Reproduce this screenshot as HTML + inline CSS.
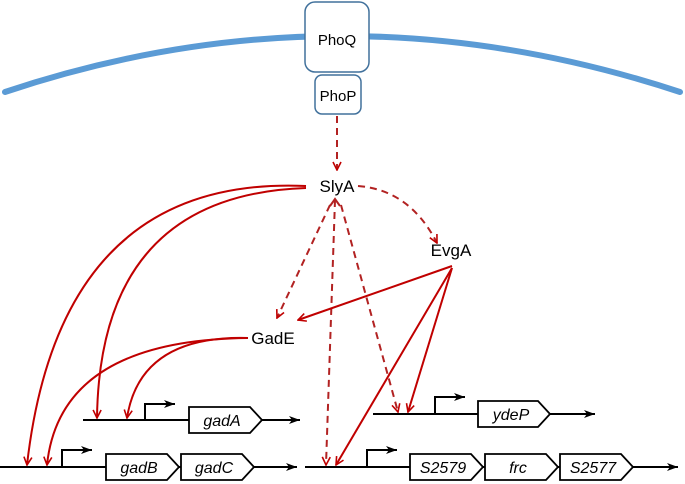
<!DOCTYPE html>
<html><head><meta charset="utf-8"><style>
html,body{margin:0;padding:0;background:#fff;}
svg{display:block;font-family:"Liberation Sans",Arial,sans-serif;}
</style></head><body>
<svg width="685" height="484" viewBox="0 0 685 484" xmlns="http://www.w3.org/2000/svg">
<defs>
<marker id="r" markerWidth="10" markerHeight="10" refX="9" refY="5" orient="auto" markerUnits="userSpaceOnUse"><path d="M1,1 L9,5 L1,9" fill="none" stroke="#c00000" stroke-width="1.6"/></marker>
<marker id="k" markerWidth="12" markerHeight="10" refX="11" refY="5" orient="auto" markerUnits="userSpaceOnUse"><path d="M0,1 L11,5 L0,9 L3,5 Z" fill="#000"/></marker>
</defs>
<path d="M5,92 Q340,-20 680,92" fill="none" stroke="#5b9bd5" stroke-width="6" stroke-linecap="round"/>
<rect x="305" y="2" width="64" height="70" rx="10" fill="#fff" stroke="#41719c" stroke-width="1.5"/>
<text x="337" y="45" font-size="15" text-anchor="middle">PhoQ</text>
<rect x="315" y="75" width="46" height="39" rx="7" fill="#fff" stroke="#41719c" stroke-width="1.5"/>
<text x="338" y="101" font-size="15" text-anchor="middle">PhoP</text>

<g fill="none" stroke="#b22222" stroke-width="2" stroke-dasharray="7,5">
<line x1="337" y1="116" x2="337" y2="170" marker-end="url(#r)"/>
<path d="M358,186 Q410,190 437,243" marker-end="url(#r)"/>
<line x1="330" y1="205" x2="277" y2="318" marker-end="url(#r)"/>
<line x1="335" y1="200" x2="326" y2="465" marker-end="url(#r)"/>
<line x1="341" y1="205" x2="398" y2="412" marker-end="url(#r)"/>
</g>
<path d="M330,206 L335,199 L340,206" fill="none" stroke="#b22222" stroke-width="2"/>

<g fill="none" stroke="#c00000" stroke-width="2">
<path d="M306,186 Q60,175 27,465" marker-end="url(#r)"/>
<path d="M306,188 Q100,195 97,418" marker-end="url(#r)"/>
<path d="M248,338 Q60,340 47,465" marker-end="url(#r)"/>
<path d="M248,338 Q140,335 127,418" marker-end="url(#r)"/>
<line x1="452" y1="266" x2="298" y2="320" marker-end="url(#r)"/>
<line x1="452" y1="268" x2="336" y2="465" marker-end="url(#r)"/>
<line x1="452" y1="268" x2="408" y2="412" marker-end="url(#r)"/>
</g>

<text x="337" y="192" font-size="17" text-anchor="middle">SlyA</text>
<text x="451" y="256" font-size="17" text-anchor="middle">EvgA</text>
<text x="273" y="344" font-size="17" text-anchor="middle">GadE</text>

<g stroke="#000" stroke-width="2" fill="none">
<line x1="83" y1="420" x2="300" y2="420" marker-end="url(#k)"/>
<path d="M145,420 V404 H175" marker-end="url(#k)"/>
<line x1="0" y1="467" x2="297" y2="467" marker-end="url(#k)"/>
<path d="M62,467 V450 H92" marker-end="url(#k)"/>
<line x1="373" y1="414" x2="595" y2="414" marker-end="url(#k)"/>
<path d="M435,414 V397 H465" marker-end="url(#k)"/>
<line x1="305" y1="467" x2="678" y2="467" marker-end="url(#k)"/>
<path d="M367,467 V450 H397" marker-end="url(#k)"/>
</g>
<g stroke="#000" stroke-width="1.8" fill="#fff">
<path d="M189,407 H250 L262,420 L250,433 H189 Z"/>
<path d="M106,454 H167 L179,467 L167,480 H106 Z"/>
<path d="M181,454 H242 L254,467 L242,480 H181 Z"/>
<path d="M478,401 H538 L550,414 L538,427 H478 Z"/>
<path d="M410,454 H471 L483,467 L471,480 H410 Z"/>
<path d="M485,454 H546 L558,467 L546,480 H485 Z"/>
<path d="M560,454 H621 L633,467 L621,480 H560 Z"/>
</g>
<g font-size="16" font-style="italic" text-anchor="middle">
<text x="222" y="426">gadA</text>
<text x="139" y="473">gadB</text>
<text x="214" y="473">gadC</text>
<text x="511" y="420">ydeP</text>
<text x="443" y="473">S2579</text>
<text x="518" y="473">frc</text>
<text x="593" y="473">S2577</text>
</g>
</svg>
</body></html>
